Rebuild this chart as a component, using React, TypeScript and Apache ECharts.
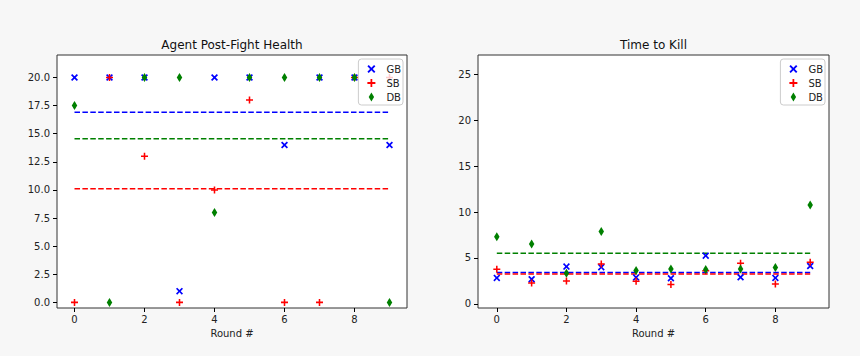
import React, { useEffect, useRef } from "react";
import * as echarts from "echarts";

const rounds = [0, 1, 2, 3, 4, 5, 6, 7, 8, 9];

// Agent Post-Fight Health
const healthGB = [20, 20, 20, 1, 20, 20, 14, 20, 20, 14];
const healthSB = [0, 20, 13, 0, 10, 18, 0, 0, 20, 20];
const healthDB = [17.5, 0, 20, 20, 8, 20, 20, 20, 20, 0];
const healthMeans = [16.9, 10.1, 14.55]; // GB, SB, DB

// Time to Kill
const ttkGB = [2.83, 2.68, 4.06, 4.0, 2.88, 2.79, 5.25, 2.9, 2.83, 4.12];
const ttkSB = [3.77, 2.28, 2.5, 4.33, 2.47, 2.1, 3.6, 4.42, 2.17, 4.53];
const ttkDB = [7.3, 6.53, 3.34, 7.87, 3.62, 3.8, 3.75, 3.8, 3.95, 10.77];
const ttkMeans = [3.42, 3.25, 5.5];

const xTicks = [0, 2, 4, 6, 8];
const healthTicks = [0, 2.5, 5, 7.5, 10, 12.5, 15, 17.5, 20];
const ttkTicks = [0, 5, 10, 15, 20, 25];

const seriesNames = ["GB", "SB", "DB"];
const colors = ["#0000ff", "#ff0000", "#008000"];

const X_PATH =
  "path://M0,1.7L1.7,0L5,3.3L8.3,0L10,1.7L6.7,5L10,8.3L8.3,10L5,6.7L1.7,10L0,8.3L3.3,5Z";
const PLUS_PATH = "path://M3.9,0H6.1V3.9H10V6.1H6.1V10H3.9V6.1H0V3.9H3.9Z";
const DIAMOND_PATH = "path://M3,0L6,5L3,10L0,5Z";
const symbols = [X_PATH, PLUS_PATH, DIAMOND_PATH];
const symbolSizes: any[] = [7, 7, [5.5, 9]];

const FONT = "DejaVu Sans";

export default function App() {
  const ref = useRef<HTMLDivElement>(null);
  useEffect(() => {
    if (!ref.current) return;
    const chart = echarts.init(ref.current, undefined, { renderer: "svg" });

    const grids = [
      { left: 57, top: 55, width: 350, height: 253 },
      { left: 478, top: 55, width: 351, height: 253 },
    ];

    const xAxisBase = (gi: number, min: number, max: number) => ({
      type: "value",
      gridIndex: gi,
      min,
      max,
      position: "bottom",
      axisLine: { show: false, onZero: false },
      axisTick: {
        show: true,
        length: 4,
        customValues: xTicks,
        lineStyle: { color: "#000", width: 1 },
      },
      axisLabel: {
        customValues: xTicks,
        margin: 6,
        fontSize: 10,
        color: "#222",
        fontFamily: FONT,
      },
      splitLine: { show: false },
      name: "Round #",
      nameLocation: "middle",
      nameGap: 16,
      nameTextStyle: {
        fontSize: 10,
        color: "#222",
        fontFamily: FONT,
        verticalAlign: "top",
      },
    });

    const yAxisBase = (
      gi: number,
      min: number,
      max: number,
      ticks: number[],
      fmt: (v: number) => string
    ) => ({
      type: "value",
      gridIndex: gi,
      min,
      max,
      axisLine: { show: false, onZero: false },
      axisTick: {
        show: true,
        length: 4,
        customValues: ticks,
        lineStyle: { color: "#000", width: 1 },
      },
      axisLabel: {
        customValues: ticks,
        margin: 7,
        fontSize: 10,
        color: "#222",
        fontFamily: FONT,
        formatter: (v: number) => fmt(v),
      },
      splitLine: { show: false },
    });

    const makeScatter = (
      name: string,
      idx: number,
      values: number[],
      gi: number
    ) => ({
      type: "scatter",
      name,
      xAxisIndex: gi,
      yAxisIndex: gi,
      symbol: symbols[idx],
      symbolSize: symbolSizes[idx],
      itemStyle: { color: colors[idx], opacity: 1 },
      z: 3,
      data: rounds.map((r, i) => [r, values[i]]),
    });

    const makeMean = (idx: number, mean: number, gi: number) => ({
      type: "line",
      name: seriesNames[idx] + " mean",
      xAxisIndex: gi,
      yAxisIndex: gi,
      symbol: "none",
      silent: true,
      z: 2,
      lineStyle: { color: colors[idx], width: 1.5, type: [5.5, 2.4] },
      data: [
        [rounds[0], mean],
        [rounds[rounds.length - 1], mean],
      ],
    });

    const legendBase = (right: number) => ({
      right,
      top: 59,
      orient: "vertical",
      selectedMode: false,
      backgroundColor: "rgba(255,255,255,0.8)",
      borderColor: "#cccccc",
      borderWidth: 1,
      borderRadius: 3,
      padding: [5, 2, 3, 9],
      itemWidth: 8,
      itemHeight: 9,
      itemGap: 4,
      textStyle: {
        fontSize: 10,
        color: "#222",
        fontFamily: FONT,
        lineHeight: 9,
        padding: [0, 0, 0, 6],
      },
      data: seriesNames.map((n, i) => ({
        name: n,
        icon: symbols[i],
        itemStyle: { color: colors[i] },
      })),
      z: 10,
    });

    const healthSets = [healthGB, healthSB, healthDB];
    const ttkSets = [ttkGB, ttkSB, ttkDB];

    const option: any = {
      animation: false,
      backgroundColor: "#f7f7f7",
      grid: grids.map((g) => ({
        ...g,
        show: true,
        backgroundColor: "#ffffff",
        borderColor: "#333",
        borderWidth: 1,
      })),
      xAxis: [xAxisBase(0, -0.5, 9.5), xAxisBase(1, -0.54, 9.54)],
      yAxis: [
        yAxisBase(0, -0.5, 22, healthTicks, (v) => v.toFixed(1)),
        yAxisBase(1, -0.45, 27.1, ttkTicks, (v) => String(v)),
      ],
      legend: [legendBase(457), legendBase(35)],
      graphic: [
        {
          type: "text",
          x: 232,
          y: 45,
          style: {
            text: "Agent Post-Fight Health",
            textAlign: "center",
            textVerticalAlign: "middle",
            fontSize: 12,
            fontFamily: FONT,
            fill: "#111",
          },
        },
        {
          type: "text",
          x: 653.5,
          y: 45,
          style: {
            text: "Time to Kill",
            textAlign: "center",
            textVerticalAlign: "middle",
            fontSize: 12,
            fontFamily: FONT,
            fill: "#111",
          },
        },
      ],
      series: [
        ...healthMeans.map((m, i) => makeMean(i, m, 0)),
        ...ttkMeans.map((m, i) => makeMean(i, m, 1)),
        ...healthSets.map((s, i) => makeScatter(seriesNames[i], i, s, 0)),
        ...ttkSets.map((s, i) => makeScatter(seriesNames[i], i, s, 1)),
      ],
    };

    chart.setOption(option);
    return () => chart.dispose();
  }, []);

  return (
    <div
      ref={ref}
      style={{ position: "absolute", left: 0, top: 0, width: 860, height: 356 }}
    />
  );
}
